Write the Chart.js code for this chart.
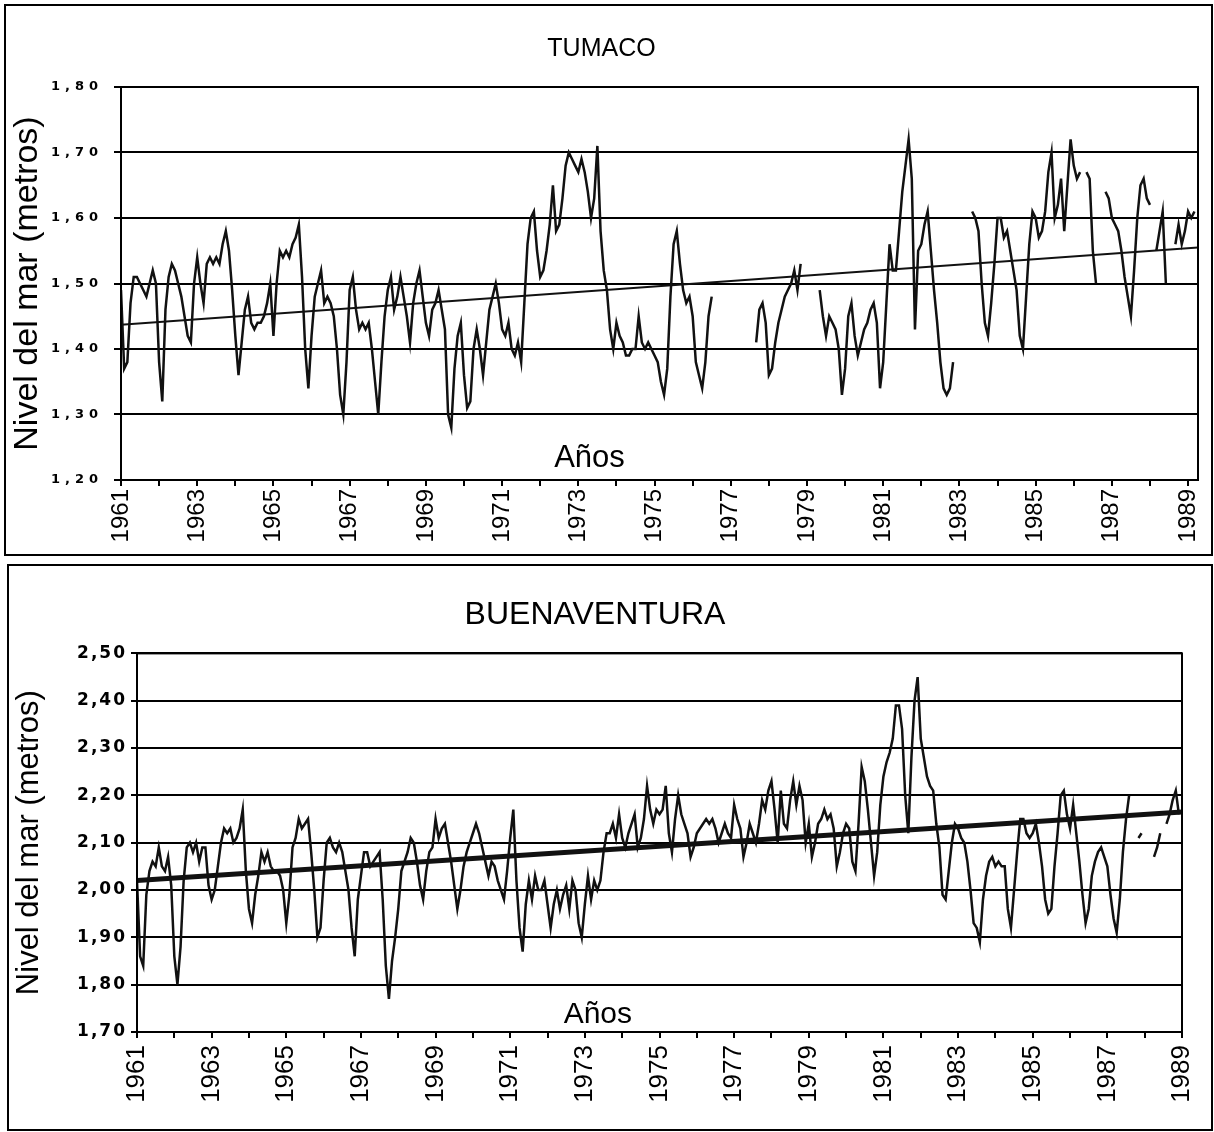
<!DOCTYPE html>
<html>
<head>
<meta charset="utf-8">
<script src="https://cdn.jsdelivr.net/npm/chart.js@4.4.1/dist/chart.umd.min.js"></script>
<style>
  body { margin: 0; background: #fff; }
  .frame { position: absolute; border: 2px solid #000; box-sizing: border-box; }
  canvas { position: absolute; }
</style>
</head>
<body>
<div class="frame" style="left:4px; top:4px; width:1209px; height:552px;"></div>
<div class="frame" style="left:7px; top:564px; width:1206px; height:567px;"></div>
<canvas id="tumaco" width="1207" height="550" style="left:5px; top:5px;"></canvas>
<canvas id="buenaventura" width="1204" height="565" style="left:8px; top:565px;"></canvas>
<script>
// ticks on the year axis (labels every 2 years)
const yearLabels = [1961, 1963, 1965, 1967, 1969, 1971, 1973, 1975, 1977, 1979, 1981, 1983, 1985, 1987, 1989];

// Tumaco, monthly mean sea level (m), Jan 1961 onwards
const tumaco1961_1967 = [
  1.49, 1.37, 1.38, 1.47, 1.51, 1.51, 1.50, 1.49, 1.48, 1.50, 1.52, 1.50,
  1.38, 1.32, 1.46, 1.51, 1.53, 1.52, 1.50, 1.48, 1.45, 1.42, 1.41, 1.50,
  1.54, 1.50, 1.47, 1.53, 1.54, 1.53, 1.54, 1.53, 1.56, 1.58, 1.55, 1.49,
  1.42, 1.36, 1.41, 1.46, 1.48, 1.44, 1.43, 1.44, 1.44, 1.45, 1.47, 1.50,
  1.42, 1.50, 1.55, 1.54, 1.55, 1.54, 1.56, 1.57, 1.59, 1.51, 1.40, 1.34,
  1.42, 1.48, 1.50, 1.52, 1.47, 1.48, 1.47, 1.45, 1.40, 1.33, 1.30, 1.38,
  1.49, 1.51, 1.46, 1.43, 1.44, 1.43, 1.44, 1.40, 1.35, 1.30, 1.38, 1.45
];
const tumaco1968_1974 = [
  1.49, 1.51, 1.46, 1.48, 1.51, 1.48, 1.45, 1.41, 1.47, 1.50, 1.52, 1.48,
  1.44, 1.42, 1.46, 1.47, 1.49, 1.46, 1.43, 1.30, 1.28, 1.37, 1.42, 1.44,
  1.36, 1.31, 1.32, 1.40, 1.43, 1.40, 1.36, 1.41, 1.46, 1.48, 1.50, 1.47,
  1.43, 1.42, 1.44, 1.40, 1.39, 1.41, 1.38, 1.47, 1.56, 1.60, 1.61, 1.55,
  1.51, 1.52, 1.55, 1.59, 1.65, 1.58, 1.59, 1.63, 1.68, 1.70, 1.69, 1.68,
  1.67, 1.69, 1.67, 1.64, 1.60, 1.63, 1.71, 1.58, 1.52, 1.49, 1.43, 1.40,
  1.44, 1.42, 1.41, 1.39, 1.39, 1.40, 1.40, 1.45, 1.41, 1.40, 1.41, 1.40
];
const tumaco1975_1981 = [
  1.39, 1.38, 1.35, 1.33, 1.37, 1.48, 1.56, 1.58, 1.53, 1.49, 1.47, 1.48,
  1.45, 1.38, 1.36, 1.34, 1.38, 1.45, 1.48, null, null, null, null, null,
  null, null, null, null, null, null, null, null, 1.41, 1.46, 1.47, 1.44,
  1.36, 1.37, 1.41, 1.44, 1.46, 1.48, 1.49, 1.50, 1.52, 1.49, 1.53, null,
  null, null, null, null, 1.49, 1.45, 1.42, 1.45, 1.44, 1.43, 1.40, 1.33,
  1.37, 1.45, 1.47, 1.42, 1.39, 1.41, 1.43, 1.44, 1.46, 1.47, 1.44, 1.34,
  1.38, 1.47, 1.56, 1.52, 1.52, 1.58, 1.64, 1.68, 1.72, 1.66, 1.43, 1.55
];
const tumaco1982_1989 = [
  1.56, 1.59, 1.61, 1.55, 1.49, 1.44, 1.38, 1.34, 1.33, 1.34, 1.38, null,
  null, null, null, null, 1.61, 1.60, 1.58, 1.50, 1.44, 1.42, 1.47, 1.53,
  1.60, 1.60, 1.57, 1.58, 1.55, 1.52, 1.49, 1.42, 1.40, 1.48, 1.56, 1.61,
  1.60, 1.57, 1.58, 1.61, 1.67, 1.70, 1.60, 1.62, 1.66, 1.58, 1.65, 1.72,
  1.68, 1.66, 1.67, null, 1.67, 1.66, 1.55, 1.50, null, null, 1.64, 1.63,
  1.60, 1.59, 1.58, 1.55, 1.51, 1.48, 1.45, 1.52, 1.60, 1.65, 1.66, 1.63,
  1.62, null, 1.55, 1.58, 1.61, 1.50, null, null, 1.56, 1.59, 1.56, 1.58,
  1.61, 1.60, 1.61
];
const tumacoTrendX = [1961, 1989.26];
const tumacoTrendY = [1.437, 1.555];

// Buenaventura, monthly mean sea level (m), Jan 1961 onwards
const buena1961_1967 = [
  2.02, 1.86, 1.84, 1.99, 2.04, 2.06, 2.05, 2.09, 2.05, 2.04, 2.07, 2.01,
  1.86, 1.80, 1.88, 2.02, 2.09, 2.10, 2.08, 2.10, 2.06, 2.09, 2.09, 2.01,
  1.98, 2.00, 2.05, 2.10, 2.13, 2.12, 2.13, 2.10, 2.11, 2.13, 2.17, 2.04,
  1.96, 1.93, 1.99, 2.03, 2.08, 2.06, 2.08, 2.05, 2.04, 2.04, 2.03, 2.00,
  1.93, 1.99, 2.09, 2.11, 2.15, 2.13, 2.14, 2.15, 2.08, 2.00, 1.90, 1.92,
  2.02, 2.10, 2.11, 2.09, 2.08, 2.10, 2.08, 2.04, 2.00, 1.92, 1.86, 1.98,
  2.03, 2.08, 2.08, 2.05, 2.06, 2.07, 2.08, 1.98, 1.84, 1.77, 1.85, 1.90
];
const buena1968_1974 = [
  1.96, 2.04, 2.06, 2.08, 2.11, 2.10, 2.06, 2.01, 1.98, 2.04, 2.08, 2.09,
  2.15, 2.11, 2.13, 2.14, 2.10, 2.06, 2.01, 1.96, 2.00, 2.05, 2.08, 2.10,
  2.12, 2.14, 2.12, 2.09, 2.06, 2.03, 2.06, 2.05, 2.02, 2.00, 1.98, 2.04,
  2.11, 2.17, 2.02, 1.92, 1.87, 1.97, 2.02, 1.98, 2.03, 2.00, 2.00, 2.02,
  1.97, 1.92, 1.97, 2.00, 1.96, 1.99, 2.01, 1.96, 2.02, 2.00, 1.93, 1.90,
  1.97, 2.03, 1.98, 2.02, 2.00, 2.02, 2.08, 2.12, 2.12, 2.14, 2.11, 2.16,
  2.11, 2.09, 2.12, 2.14, 2.16, 2.09, 2.11, 2.15, 2.22, 2.17, 2.14, 2.17
];
const buena1975_1981 = [
  2.16, 2.17, 2.22, 2.12, 2.08, 2.15, 2.20, 2.16, 2.14, 2.12, 2.07, 2.09,
  2.12, 2.13, 2.14, 2.15, 2.14, 2.15, 2.13, 2.10, 2.12, 2.14, 2.12, 2.11,
  2.18, 2.15, 2.13, 2.07, 2.10, 2.14, 2.12, 2.10, 2.14, 2.19, 2.17, 2.21,
  2.23, 2.17, 2.10, 2.21, 2.14, 2.13, 2.19, 2.23, 2.18, 2.22, 2.19, 2.10,
  2.14, 2.07, 2.10, 2.14, 2.15, 2.17, 2.15, 2.16, 2.13, 2.05, 2.08, 2.12,
  2.14, 2.13, 2.06, 2.04, 2.14, 2.26, 2.23, 2.17, 2.10, 2.03, 2.08, 2.18,
  2.24, 2.27, 2.29, 2.32, 2.39, 2.39, 2.34, 2.20, 2.12, 2.28, 2.40, 2.45
];
const buena1982_1988 = [
  2.32, 2.28, 2.24, 2.22, 2.21, 2.14, 2.09, 1.99, 1.98, 2.04, 2.10, 2.14,
  2.13, 2.11, 2.10, 2.06, 2.00, 1.93, 1.92, 1.89, 1.98, 2.03, 2.06, 2.07,
  2.05, 2.06, 2.05, 2.05, 1.96, 1.92, 2.00, 2.08, 2.15, 2.15, 2.12, 2.11,
  2.12, 2.14, 2.10, 2.05, 1.98, 1.95, 1.96, 2.05, 2.12, 2.20, 2.21, 2.16,
  2.13, 2.18, 2.12, 2.06, 1.99, 1.93, 1.96, 2.03, 2.06, 2.08, 2.09, 2.07,
  2.05, 1.99, 1.94, 1.91, 1.98, 2.08, 2.15, 2.20, null, null, 2.11, 2.12,
  null, null, null, 2.07, 2.09, 2.12, null, 2.14, 2.16, 2.19, 2.21, 2.16
];
const buenaTrendX = [1961, 1989];
const buenaTrendY = [2.02, 2.165];

const FONT = '"Liberation Sans", Arial, sans-serif';

function monthly(values) {
  return values.map((v, i) => ({ x: 1961 + i / 12, y: v }));
}
function pairs(xs, ys) {
  return xs.map((x, i) => ({ x: x, y: ys[i] }));
}
function comma(v) {
  return v.toFixed(2).replace('.', ',');
}

const boxPlugin = {
  id: 'plotBox',
  afterDatasetsDraw(chart, args, opts) {
    const { ctx, chartArea } = chart;
    ctx.save();
    ctx.strokeStyle = '#000';
    ctx.lineWidth = 2;
    ctx.strokeRect(chartArea.left, chartArea.top, chartArea.right - chartArea.left, chartArea.bottom - chartArea.top);
    // "Años" caption inside the plot
    ctx.fillStyle = '#000';
    ctx.font = opts.anosSize + 'px ' + FONT;
    ctx.textAlign = 'center';
    ctx.textBaseline = 'middle';
    ctx.fillText('Años', chartArea.left + opts.frac * (chartArea.right - chartArea.left), chartArea.bottom - opts.lift);
    ctx.restore();
    // the y tick labels (z: 1) are drawn after this point: space them out
    ctx.letterSpacing = opts.spacing;
  },
  afterDraw(chart) {
    chart.ctx.letterSpacing = '0px';
  }
};

function makeChart(id, cfg) {
  const ctx = document.getElementById(id).getContext('2d');
  return new Chart(ctx, {
    type: 'line',
    data: {
      datasets: [
        {
          data: cfg.series,
          borderColor: '#111',
          borderWidth: 2.5,
          pointRadius: 0,
          tension: 0,
          spanGaps: false,
        },
        {
          data: cfg.trend,
          borderColor: '#111',
          borderWidth: cfg.trendWidth,
          pointRadius: 0,
          tension: 0,
        },
      ],
    },
    plugins: [boxPlugin],
    options: {
      responsive: false,
      animation: false,
      layout: { padding: { left: 0, right: cfg.padRight, top: 0, bottom: 0 } },
      plugins: {
        legend: { display: false },
        tooltip: { enabled: false },
        title: {
          display: true,
          text: cfg.title,
          color: '#000',
          font: { family: FONT, size: cfg.titleSize, weight: 'normal' },
          padding: { top: cfg.titleTop, bottom: cfg.titleBottom },
        },
        plotBox: { frac: cfg.anosFrac, lift: cfg.anosLift, anosSize: cfg.anosSize, spacing: cfg.ySpacing },
      },
      scales: {
        x: {
          type: 'linear',
          min: 1961,
          max: cfg.xMax,
          afterBuildTicks: function (scale) {
            const t = [];
            for (let y = 1961; y <= 1989; y++) t.push({ value: y });
            scale.ticks = t;
          },
          afterFit: function (scale) {
            scale.height = cfg.xHeight;
            scale.paddingLeft = 0;
            scale.paddingRight = 0;
          },
          grid: { drawOnChartArea: false, color: '#000', lineWidth: 2, tickLength: 6 },
          border: { color: '#000', width: 2 },
          ticks: {
            autoSkip: false,
            minRotation: 90,
            maxRotation: 90,
            padding: cfg.xPad,
            color: '#000',
            font: { family: FONT, size: cfg.xFont },
            callback: function (value) {
              return yearLabels.includes(value) ? String(value) : '';
            },
          },
        },
        y: {
          min: cfg.yMin,
          max: cfg.yMax,
          afterFit: function (scale) { scale.width = cfg.yWidth; },
          grid: { color: '#000', lineWidth: 2, tickLength: cfg.yTick },
          border: { color: '#000', width: 2 },
          ticks: {
            z: 1,
            stepSize: 0.1,
            padding: cfg.yPad,
            color: '#000',
            font: { family: '"DejaVu Sans", sans-serif', size: cfg.yFont, weight: 'bold' },
            callback: function (value) { return comma(value); },
          },
          title: {
            display: true,
            text: 'Nivel del mar (metros)',
            color: '#000',
            font: { family: FONT, size: cfg.yTitleSize },
            padding: { top: cfg.yTitlePad, bottom: 0 },
          },
        },
      },
    },
  });
}

makeChart('tumaco', {
  title: 'TUMACO',
  titleSize: 25,
  series: monthly([].concat(tumaco1961_1967, tumaco1968_1974, tumaco1975_1981, tumaco1982_1989)),
  trend: pairs(tumacoTrendX, tumacoTrendY),
  trendWidth: 2,
  padRight: 14,
  titleTop: 29,
  titleBottom: 23,
  xMax: 1989.26,
  xHeight: 75,
  xFont: 24,
  xPad: 3,
  yMin: 1.2,
  yMax: 1.8,
  yWidth: 116,
  yTick: 7,
  yPad: 11,
  yFont: 13,
  ySpacing: '5px',
  yTitleSize: 34,
  yTitlePad: 2,
  anosFrac: 0.435,
  anosLift: 22,
  anosSize: 31,
});

makeChart('buenaventura', {
  title: 'BUENAVENTURA',
  titleSize: 32,
  series: monthly([].concat(buena1961_1967, buena1968_1974, buena1975_1981, buena1982_1988)),
  trend: pairs(buenaTrendX, buenaTrendY),
  trendWidth: 5,
  padRight: 30,
  titleTop: 31,
  titleBottom: 19,
  xMax: 1989,
  xHeight: 98,
  xFont: 26,
  xPad: 7,
  yMin: 1.7,
  yMax: 2.5,
  yWidth: 129,
  yTick: 6,
  yPad: 4,
  yFont: 17,
  ySpacing: '2px',
  yTitleSize: 31,
  yTitlePad: 3,
  anosFrac: 0.441,
  anosLift: 17,
  anosSize: 30,
});
</script>
</body>
</html>
